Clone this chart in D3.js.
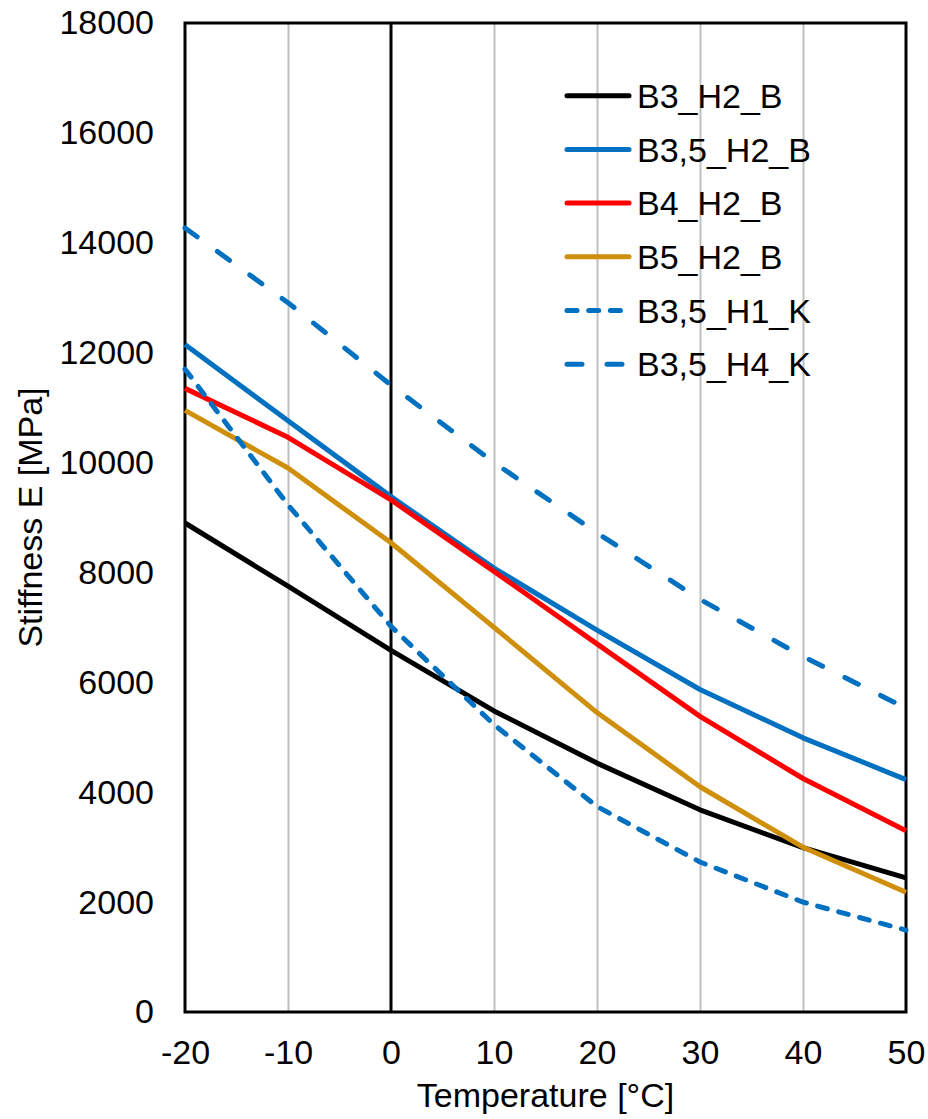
<!DOCTYPE html>
<html>
<head>
<meta charset="utf-8">
<script src="https://cdn.jsdelivr.net/npm/d3@7"></script>
<style>
  html, body { margin: 0; padding: 0; background: #fff; }
  svg { display: block; font-family: "Liberation Sans", Arial, sans-serif; }
</style>
</head>
<body>
<svg id="chart" width="928" height="1119"></svg>
<script>
// Temperatures (°C) at which stiffness was measured
const temps = [-20, -10, 0, 10, 20, 30, 40, 50];

// Stiffness E [MPa] per mixture
const b3_h2_b  = [8900, 7750, 6580, 5480, 4530, 3680, 2990, 2440];
const b35_h2_b = [12150, 10760, 9380, 8080, 6950, 5870, 4990, 4230];
const b4_h2_b  = [11350, 10460, 9320, 8020, 6700, 5380, 4250, 3300];
const b5_h2_b  = [10950, 9900, 8540, 7000, 5450, 4100, 3000, 2180];
const b35_h1_k = [11700, 9230, 7020, 5230, 3740, 2730, 2000, 1490];
const b35_h4_k = [14270, 12910, 11410, 10000, 8720, 7510, 6470, 5530];

const seriesNames = ["B3_H2_B", "B3,5_H2_B", "B4_H2_B", "B5_H2_B", "B3,5_H1_K", "B3,5_H4_K"];
const seriesValues = [b3_h2_b, b35_h2_b, b4_h2_b, b5_h2_b, b35_h1_k, b35_h4_k];

const xTicks = [-20, -10, 0, 10, 20, 30, 40, 50];
const yTicks = [0, 2000, 4000, 6000, 8000, 10000, 12000, 14000, 16000, 18000];

// Line styles
const colors = ["#000000", "#0070C0", "#FF0000", "#D08F0A", "#0070C0", "#0070C0"];
const dashes = [null, null, null, null, "10 11.7", "15 25"];

const svg = d3.select("#chart");
const margin = { left: 185, top: 23, right: 22, bottom: 107 };
const W = 928, H = 1119;
const iw = W - margin.left - margin.right;
const ih = H - margin.top - margin.bottom;

const x = d3.scaleLinear().domain([-20, 50]).range([margin.left, margin.left + iw]);
const y = d3.scaleLinear().domain([0, 18000]).range([margin.top + ih, margin.top]);

const fontSize = 34;
const plain = d => String(d);   // hyphen-minus, no grouping

// Vertical gridlines
const grid = svg.append("g")
  .attr("transform", `translate(0,${margin.top + ih})`)
  .call(d3.axisBottom(x).tickValues(xTicks.filter(t => t !== -20 && t !== 0 && t !== 50))
    .tickSize(-ih).tickFormat(""));
grid.select(".domain").remove();
grid.selectAll("line").attr("stroke", "#BFBFBF").attr("stroke-width", 2);

// Plot frame and the axis line at 0 °C
svg.append("rect")
  .attr("x", x(-20)).attr("y", y(18000))
  .attr("width", x(50) - x(-20)).attr("height", y(0) - y(18000))
  .attr("fill", "none").attr("stroke", "#000").attr("stroke-width", 3);
svg.append("line")
  .attr("x1", x(0)).attr("x2", x(0)).attr("y1", y(0)).attr("y2", y(18000))
  .attr("stroke", "#000").attr("stroke-width", 3);

// Axis labels
const xAxis = svg.append("g")
  .attr("transform", `translate(0,${margin.top + ih})`)
  .call(d3.axisBottom(x).tickValues(xTicks).tickSize(0).tickPadding(28).tickFormat(plain));
xAxis.select(".domain").remove();
xAxis.selectAll("text").attr("font-size", fontSize).attr("fill", "#000")
  .attr("font-family", "'Liberation Sans', Arial, sans-serif");

const yAxis = svg.append("g")
  .attr("transform", `translate(${margin.left},0)`)
  .call(d3.axisLeft(y).tickValues(yTicks).tickSize(0).tickPadding(31).tickFormat(plain));
yAxis.select(".domain").remove();
yAxis.selectAll("text").attr("font-size", fontSize).attr("fill", "#000")
  .attr("font-family", "'Liberation Sans', Arial, sans-serif");

// Axis titles
svg.append("text")
  .attr("x", margin.left + iw / 2).attr("y", 1107)
  .attr("text-anchor", "middle").attr("font-size", fontSize)
  .text("Temperature [°C]");
svg.append("text")
  .attr("transform", `translate(42,${margin.top + ih / 2}) rotate(-90)`)
  .attr("text-anchor", "middle").attr("font-size", fontSize)
  .text("Stiffness E [MPa]");

// Series lines
const line = d3.line().x((d, i) => x(temps[i])).y(d => y(d));
seriesValues.forEach((vals, s) => {
  svg.append("path")
    .datum(vals)
    .attr("d", line)
    .attr("fill", "none")
    .attr("stroke", colors[s])
    .attr("stroke-width", 5)
    .attr("stroke-linejoin", "round")
    .attr("stroke-linecap", dashes[s] ? "round" : "butt")
    .attr("stroke-dasharray", dashes[s]);
});

// Legend
const legend = svg.append("g");
seriesNames.forEach((name, s) => {
  const ly = 95.7 + s * 53.7;
  legend.append("line")
    .attr("x1", 567).attr("x2", 629).attr("y1", ly).attr("y2", ly)
    .attr("stroke", colors[s]).attr("stroke-width", 5)
    .attr("stroke-linecap", "round")
    .attr("stroke-dasharray", dashes[s]);
  legend.append("text")
    .attr("x", 637).attr("y", ly).attr("dy", "0.36em")
    .attr("font-size", fontSize)
    .text(name);
});
</script>
</body>
</html>
